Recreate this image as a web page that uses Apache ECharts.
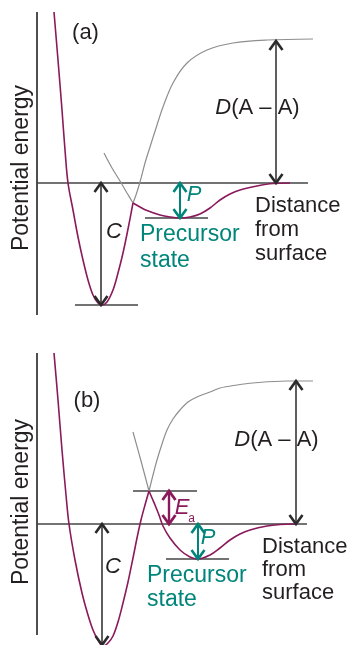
<!DOCTYPE html>
<html>
<head>
<meta charset="utf-8">
<script src="https://cdn.jsdelivr.net/npm/echarts@6/dist/echarts.min.js"></script>
<style>
html,body{margin:0;padding:0;background:#fff;}
#chart{width:350px;height:645px;}
</style>
</head>
<body>
<div id="chart"></div>
<script>
// Units: distance from the axis (x) and potential energy relative to the separated state (y).
// ---- Panel (a) ----
const magentaA_chem = [[1.7,17.1],[2.1,12.3],[2.5,7.3],[2.8,3.3],[3.1,0],[3.6,-2.7],[4.1,-5.4],[4.6,-7.7],[5.1,-9.7],[5.6,-11.2],[6.1,-12.0],[6.5,-12.2],[7.0,-11.9],[7.6,-10.7],[8.1,-9.0],[8.6,-7.0],[9.1,-4.6],[9.6,-2.0]];
const magentaA_prec = [[9.6,-2.0],[10.3,-2.4],[11.0,-2.75],[12.3,-3.2],[13.3,-3.4],[14.3,-3.5],[15.3,-3.4],[16.3,-3.1],[17.3,-2.5],[18.3,-1.7],[19.3,-1.1],[20.3,-0.7],[22.0,-0.3],[23.6,-0.05],[25.3,0]];
const grayA_wall = [[6.7,3.0],[7.5,1.5],[8.3,0.2],[9.0,-1.0],[9.6,-2.0]];
const grayA_rise = [[9.6,-2.0],[9.9,-1.2],[10.3,0.1],[10.8,2.0],[11.3,3.6],[12.0,5.8],[12.6,7.6],[13.6,10.0],[15.0,12.0],[17.0,13.3],[19.6,14.0],[23.0,14.3],[27.6,14.4]];
const levelsA = [[0,0,27.1,0],[3.8,-12.2,10.1,-12.2],[10.8,-3.5,17.1,-3.5]];   // [x1,y1,x2,y2]
const axisA = [[0,17.1,0,-13.2]];
const arrowsA_dark = [[6.4,0,-12.2],[23.9,0,14.2]];   // [x, from, to]  C and D(A–A)
const arrowsA_teal = [[14.3,0,-3.5]];                 // P
// ---- Panel (b) ----
const magentaB_chem = [[1.7,17.1],[2.1,12.4],[2.5,7.4],[2.9,2.9],[3.2,0],[3.8,-3.6],[4.5,-6.9],[5.1,-9.1],[5.6,-10.6],[6.1,-11.6],[6.6,-12.2],[7.1,-11.9],[7.6,-11.2],[8.1,-9.8],[8.6,-7.9],[9.1,-5.8],[9.6,-3.4],[10.0,-1.4],[10.4,0.4],[10.8,1.9],[11.2,3.3]];
const magentaB_prec = [[11.2,3.3],[11.5,2.6],[11.8,1.9],[12.2,0.9],[12.6,-0.2],[13.3,-1.4],[14.3,-2.6],[15.3,-3.3],[16.1,-3.5],[17.3,-3.1],[18.3,-2.4],[19.3,-1.6],[20.3,-1.0],[21.3,-0.6],[23.0,-0.2],[24.3,-0.05],[25.8,0]];
const grayB_wall = [[9.6,9.2],[10.4,6.3],[11.2,3.3]];
const grayB_rise = [[11.2,3.3],[11.6,4.9],[12.0,6.4],[12.5,8.0],[13.0,9.4],[13.6,10.5],[14.3,11.4],[15.1,12.2],[16.0,12.7],[17.3,13.2],[18.3,13.6],[20.0,13.9],[21.6,14.1],[25.0,14.3],[27.6,14.3]];
const levelsB = [[0,0,27.0,0],[9.6,3.3,16.0,3.3],[12.9,-3.5,19.2,-3.5]];
const axisB = [[0,17.1,0,-11.1]];
const arrowsB_dark = [[6.5,0,-12.1],[25.9,0,14.3]];
const arrowsB_teal = [[16.1,0,-3.5]];
const arrowsB_magenta = [[13.2,0,3.3]];

const MAGENTA = '#8a1a5b', TEAL = '#00857a', GRAY = '#8e8e8e', DARK = '#2a2a2a', LINE = '#454545';
const FONT = '"Liberation Sans", Arial, sans-serif';

function curve(data, idx, color, w) {
  return {type:'line', xAxisIndex:idx, yAxisIndex:idx, data:data, showSymbol:false, smooth:0.35,
    lineStyle:{color:color, width:w}, silent:true, animation:false, z:3};
}
function segments(data, idx, color, w) {
  return {type:'custom', xAxisIndex:idx, yAxisIndex:idx, data:data, silent:true, animation:false, z:2,
    renderItem:function(params, api){
      const a = api.coord([api.value(0), api.value(1)]);
      const b = api.coord([api.value(2), api.value(3)]);
      return {type:'line', shape:{x1:a[0],y1:a[1],x2:b[0],y2:b[1]}, style:{stroke:color, lineWidth:w}};
    }};
}
function arrows(data, idx, color, w, hw) {
  return {type:'custom', xAxisIndex:idx, yAxisIndex:idx, data:data, silent:true, animation:false, z:4,
    renderItem:function(params, api){
      const a = api.coord([api.value(0), api.value(1)]);
      const b = api.coord([api.value(0), api.value(2)]);
      const dx = b[0]-a[0], dy = b[1]-a[1], len = Math.sqrt(dx*dx+dy*dy);
      const ux = dx/len, uy = dy/len, nx = -uy, ny = ux, L = 9, W = 6.5;
      function head(t, sx, sy) {
        return {type:'polyline', shape:{points:[[t[0]-sx*L+nx*W, t[1]-sy*L+ny*W],[t[0],t[1]],[t[0]-sx*L-nx*W, t[1]-sy*L-ny*W]]},
          style:{stroke:color, lineWidth:hw, fill:null, lineJoin:'miter'}};
      }
      return {type:'group', children:[
        {type:'line', shape:{x1:a[0],y1:a[1],x2:b[0],y2:b[1]}, style:{stroke:color, lineWidth:w}},
        head(b, ux, uy), head(a, -ux, -uy)
      ]};
    }};
}
function txt(text, x, y, opts) {
  return {type:'text', x:x, y:y, rotation:(opts && opts.rotation)||0, silent:true, z:10,
    style:Object.assign({text:text, fill:'#231f20', font:'22px ' + FONT, align:'left', verticalAlign:'middle'}, opts && opts.style)};
}
const richD = {i:{fontStyle:'italic', fontSize:22, fontFamily:FONT, fill:'#231f20'}, n:{fontSize:22, fontFamily:FONT, fill:'#231f20'}};

const chart = echarts.init(document.getElementById('chart'), null, {renderer:'canvas'});
chart.setOption({
  animation:false,
  backgroundColor:'#ffffff',
  grid:[{left:37, top:12, width:313, height:303}, {left:37, top:353, width:313, height:292}],
  xAxis:[{type:'value', gridIndex:0, min:0, max:31.3, show:false}, {type:'value', gridIndex:1, min:0, max:31.3, show:false}],
  yAxis:[{type:'value', gridIndex:0, min:-13.2, max:17.1, show:false}, {type:'value', gridIndex:1, min:-12.1, max:17.1, show:false}],
  series:[
    segments(axisA, 0, '#222', 1.6), segments(levelsA, 0, LINE, 1.4),
    curve(grayA_wall, 0, GRAY, 1.2), curve(grayA_rise, 0, GRAY, 1.2),
    curve(magentaA_chem, 0, MAGENTA, 1.6), curve(magentaA_prec, 0, MAGENTA, 1.6),
    arrows(arrowsA_dark, 0, DARK, 1.5, 2.6), arrows(arrowsA_teal, 0, TEAL, 2.0, 2.6),
    segments(axisB, 1, '#222', 1.6), segments(levelsB, 1, LINE, 1.4),
    curve(grayB_wall, 1, GRAY, 1.2), curve(grayB_rise, 1, GRAY, 1.2),
    curve(magentaB_chem, 1, MAGENTA, 1.6), curve(magentaB_prec, 1, MAGENTA, 1.6),
    arrows(arrowsB_dark, 1, DARK, 1.5, 2.6), arrows(arrowsB_teal, 1, TEAL, 2.0, 2.6), arrows(arrowsB_magenta, 1, MAGENTA, 2.4, 2.8)
  ],
  graphic:[
    txt('(a)', 85.5, 33, {style:{align:'center'}}),
    txt('Potential energy', 22, 168, {rotation:Math.PI/2, style:{align:'center', font:'23px ' + FONT}}),
    txt('{i|D}{n|(A – A)}', 257.5, 108, {style:{align:'center', rich:richD}}),
    txt('C', 114, 232, {style:{align:'center', font:'italic 22px ' + FONT}}),
    txt('P', 194, 195, {style:{align:'center', font:'italic 22px ' + FONT, fill:TEAL}}),
    txt('Precursor\nstate', 140, 248, {style:{fill:TEAL, lineHeight:26, font:'23px ' + FONT}}),
    txt('Distance\nfrom\nsurface', 255, 230, {style:{lineHeight:24}}),

    txt('(b)', 87, 401, {style:{align:'center'}}),
    txt('Potential energy', 22, 502, {rotation:Math.PI/2, style:{align:'center', font:'23px ' + FONT}}),
    txt('{i|D}{n|(A – A)}', 276.5, 440, {style:{align:'center', rich:richD}}),
    txt('C', 113, 567, {style:{align:'center', font:'italic 22px ' + FONT}}),
    txt('P', 208, 538, {style:{align:'center', font:'italic 22px ' + FONT, fill:TEAL}}),
    txt('E', 182, 508, {style:{align:'center', font:'italic 22px ' + FONT, fill:MAGENTA}}),
    txt('a', 191.5, 519, {style:{align:'center', font:'12px ' + FONT, fill:MAGENTA}}),
    txt('Precursor\nstate', 147, 588, {style:{fill:TEAL, lineHeight:24, font:'23px ' + FONT}}),
    txt('Distance\nfrom\nsurface', 262, 570, {style:{lineHeight:23}})
  ]
});
</script>
</body>
</html>
